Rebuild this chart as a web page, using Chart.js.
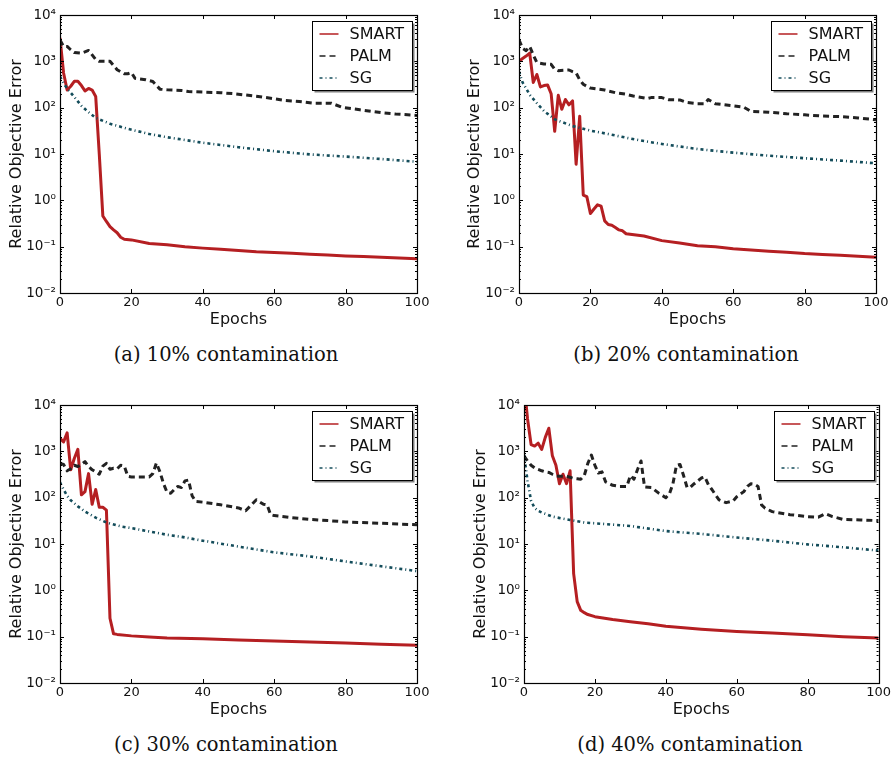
<!DOCTYPE html>
<html><head><meta charset="utf-8">
<script src="https://cdn.jsdelivr.net/npm/chart.js@4.4.1/dist/chart.umd.min.js"></script>
<style>
html,body{margin:0;padding:0;background:#fff;}
#wrap{position:relative;width:893px;height:758px;overflow:hidden;background:#fff;}
.pane{position:absolute;}
.cap{position:absolute;font-family:"DejaVu Serif",serif;font-size:19.5px;line-height:22px;color:#111;white-space:nowrap;transform:translateX(-50%);}
</style></head><body>
<div id="wrap">
  <div class="pane" id="pa"><canvas id="ca"></canvas></div>
  <div class="pane" id="pb"><canvas id="cb"></canvas></div>
  <div class="pane" id="pc"><canvas id="cc"></canvas></div>
  <div class="pane" id="pd"><canvas id="cd"></canvas></div>
  <div class="cap" style="left:226px;top:344px">(a) 10% contamination</div>
  <div class="cap" style="left:686px;top:344px">(b) 20% contamination</div>
  <div class="cap" style="left:226px;top:734px">(c) 30% contamination</div>
  <div class="cap" style="left:690px;top:734px">(d) 40% contamination</div>
</div>
<script>
// ---------- data ----------
const seriesNames = ['SMART', 'PALM', 'SG'];
const xTickValues = [0, 20, 40, 60, 80, 100];
const yTickValues = [0.01, 0.1, 1, 10, 100, 1000, 10000];
const yTickLabels = ['10\u207B\u00B2', '10\u207B\u00B9', '10\u2070', '10\u00B9', '10\u00B2', '10\u00B3', '10\u2074'];
const xTitle = 'Epochs';
const yTitle = 'Relative Objective Error';

// (a) 10% contamination
const aSmartEpochs = [0,1,2,3,4,5,6,7,8,9,10,11,12,13,14,15,16,17,18,20,25,30,35,40,45,50,55,60,65,70,75,80,85,90,95,100];
const aSmartValues = [3200,560,240,290,370,370,300,230,260,240,175,10,0.46,0.35,0.27,0.23,0.2,0.16,0.145,0.14,0.117,0.11,0.1,0.093,0.088,0.083,0.078,0.075,0.072,0.069,0.066,0.063,0.061,0.059,0.057,0.055];
const aPalmEpochs = [0,1,2,3,4,6,8,10,11,14,16,18,19,20,21,24,26,28,30,34,36,45,49,54,59,63,67,71,76,79,84,90,94,100];
const aPalmValues = [2900,2100,2100,1780,1550,1500,1720,1100,1000,1000,660,540,540,575,430,400,367,251,243,235,223,210,199,180,160,143,136,125,125,102,90,78,73,68];
const aSgEpochs = [0,1,2,4,6,8,10,14,19,25,30,40,50,60,70,80,90,100];
const aSgValues = [470,340,260,170,110,80,60,45,35,27,23,17.5,14,11.5,9.8,8.8,7.8,6.8];

// (b) 20% contamination
const bSmartEpochs = [0,1,2,3,4,5,6,7,8,9,10,11,12,13,14,15,16,17,18,19,20,21,22,23,24,25,26,27,28,29,30,35,40,45,50,55,60,65,70,75,80,85,90,95,100];
const bSmartValues = [1000,1150,1300,1500,350,520,280,300,310,200,31,185,92,150,115,140,6,65,1.3,1.2,0.52,0.65,0.8,0.75,0.36,0.3,0.29,0.26,0.23,0.22,0.19,0.17,0.135,0.12,0.105,0.1,0.09,0.085,0.08,0.076,0.071,0.068,0.065,0.062,0.059];
const bPalmEpochs = [0,1,2,3,4,5,7,9,10,11,14,15,16,17,18,19,20,24,27,30,32,36,37,40,42,45,47,50,52,53,55,60,63,65,70,75,80,85,90,95,100];
const bPalmValues = [2900,1900,1700,2100,1380,940,880,860,680,630,650,600,560,400,320,290,265,240,210,195,178,158,165,165,148,147,130,122,122,150,122,110,102,83,80,74,70,66,64,60,55];
const bSgEpochs = [0,1,2,3,5,7,10,15,20,25,30,35,40,45,50,60,70,80,90,100];
const bSgValues = [600,350,260,190,125,85,56,40,32,27,22.5,19,16.5,14.5,12.8,10.7,9.2,8.1,7.2,6.3];

// (c) 30% contamination
const cSmartEpochs = [0,1,2,3,4,5,6,7,8,9,10,11,12,13,14,15,16,20,25,30,40,50,60,70,80,90,100];
const cSmartValues = [1900,1600,2500,400,700,1100,115,135,330,72,150,62,62,54,0.25,0.115,0.112,0.104,0.098,0.094,0.09,0.085,0.081,0.077,0.073,0.069,0.065];
const cPalmEpochs = [0,1,2,3,4,5,6,7,8,9,10,11,12,13,14,15,16,17,18,19,20,25,26,27,28,29,30,31,32,33,34,35,36,37,38,40,45,50,52,55,57,58,59,60,65,70,75,80,90,100];
const cPalmValues = [550,520,380,420,500,470,520,600,470,400,360,320,480,550,410,430,420,500,480,290,280,280,330,560,360,200,130,125,150,175,165,230,240,110,83,80,70,60,52,90,72,70,43,41,37,34,32,30,28,26];
const cSgEpochs = [0,1,2,3,5,7,10,13,17,20,27,30,34,40,50,60,70,80,90,100];
const cSgValues = [215,150,110,88,65,50,37,29,24,22,17.5,15.8,14.3,11.8,8.8,6.6,5.4,4.2,3.3,2.6];

// (d) 40% contamination
const dSmartEpochs = [0,1,2,3,4,5,6,7,8,9,10,11,12,13,14,15,16,17,18,20,25,30,35,40,50,60,70,80,90,100];
const dSmartValues = [30000,5000,1400,1300,1500,1100,2000,3150,800,500,200,320,200,380,2.3,0.57,0.37,0.33,0.3,0.27,0.235,0.21,0.19,0.167,0.145,0.13,0.12,0.11,0.1,0.094];
const dPalmEpochs = [0,1,2,3,4,5,6,7,8,9,10,12,13,14,15,16,17,18,19,20,21,22,23,25,27,29,30,31,32,33,34,36,38,40,41,42,43,44,45,46,47,48,49,50,51,52,53,54,55,57,59,60,62,63,64,65,66,67,68,70,75,80,83,85,87,90,95,100];
const dPalmValues = [800,620,500,440,410,380,360,350,320,295,290,290,275,260,255,250,300,550,830,500,340,360,220,185,175,175,300,250,400,620,170,165,125,100,120,200,500,520,300,165,170,200,230,265,280,190,150,115,90,78,85,105,135,175,200,195,175,70,59,50,43,39,38,45,39,34,33,32];
const dSgEpochs = [0,1,2,3,4,5,8,13,17,20,30,40,50,60,70,80,90,100];
const dSgValues = [850,230,85,60,52,48,39,33,29,28,24.5,19,16.5,13.8,11.8,9.8,8.5,7.2];

// ---------- styles / layout ----------
const FONT = '"DejaVu Sans", sans-serif';
const styles = [
  {color:'#b51f22', width:3, dash:[], legendWidth:1.5},
  {color:'#222222', width:3, dash:[6,4], legendWidth:1.5},
  {color:'#134c5a', width:2.6, dash:[3,3,1,3], legendWidth:1.5}
];
const panels = [
  {id:'ca', pane:'pa', left:0,   top:0,   width:440, yW:60, epochs:[aSmartEpochs,aPalmEpochs,aSgEpochs], values:[aSmartValues,aPalmValues,aSgValues]},
  {id:'cb', pane:'pb', left:458, top:0,   width:435, yW:61, epochs:[bSmartEpochs,bPalmEpochs,bSgEpochs], values:[bSmartValues,bPalmValues,bSgValues]},
  {id:'cc', pane:'pc', left:0,   top:390, width:440, yW:60, epochs:[cSmartEpochs,cPalmEpochs,cSgEpochs], values:[cSmartValues,cPalmValues,cSgValues]},
  {id:'cd', pane:'pd', left:464, top:390, width:429, yW:60, epochs:[dSmartEpochs,dPalmEpochs,dSgEpochs], values:[dSmartValues,dPalmValues,dSgValues]}
];
const chartRights = [417, 876, 417, 881];
const H = 330, PADTOP = 15, XH = 37;

const framePlugin = {
  id:'frameTicks',
  afterDatasetsDraw(chart){
    const {ctx, chartArea:a, scales:{x, y}} = chart;
    ctx.save();
    ctx.strokeStyle = '#000';
    ctx.lineWidth = 1;
    ctx.beginPath();
    xTickValues.forEach(v => {
      const px = Math.round(x.getPixelForValue(v)) + 0.5;
      ctx.moveTo(px, a.bottom); ctx.lineTo(px, a.bottom - 4);
      ctx.moveTo(px, a.top); ctx.lineTo(px, a.top + 4);
    });
    for (let e = -2; e <= 4; e++) {
      const py = Math.round(y.getPixelForValue(Math.pow(10, e))) + 0.5;
      ctx.moveTo(a.left, py); ctx.lineTo(a.left + 4, py);
      ctx.moveTo(a.right, py); ctx.lineTo(a.right - 4, py);
      if (e < 4) {
        for (let m = 2; m <= 9; m++) {
          const pm = Math.round(y.getPixelForValue(m * Math.pow(10, e))) + 0.5;
          ctx.moveTo(a.left, pm); ctx.lineTo(a.left + 2, pm);
          ctx.moveTo(a.right, pm); ctx.lineTo(a.right - 2, pm);
        }
      }
    }
    ctx.stroke();
    ctx.lineWidth = 1.2;
    ctx.strokeRect(Math.round(a.left) + 0.5, Math.round(a.top) + 0.5, Math.round(a.right - a.left), Math.round(a.bottom - a.top));
    ctx.restore();
  },
  afterDraw(chart){
    const {ctx, chartArea:a} = chart;
    const bw = 100, bh = 69;
    const bx = Math.round(a.right - 5 - bw) + 0.5, by = Math.round(a.top + 6) + 0.5;
    ctx.save();
    ctx.fillStyle = '#808080';
    ctx.fillRect(bx + 2, by + 2, bw, bh);
    ctx.fillStyle = '#fff';
    ctx.fillRect(bx, by, bw, bh);
    ctx.strokeStyle = '#000';
    ctx.lineWidth = 1;
    ctx.strokeRect(bx, by, bw, bh);
    ctx.font = '16px ' + FONT;
    ctx.textBaseline = 'middle';
    ctx.fillStyle = '#111';
    chart.data.datasets.forEach((ds, i) => {
      const st = styles[i];
      const ry = by + 12.5 + i * 22;
      ctx.strokeStyle = ds.borderColor;
      ctx.lineWidth = st.legendWidth;
      ctx.setLineDash(ds.borderDash || []);
      ctx.beginPath();
      ctx.moveTo(bx + 7, ry); ctx.lineTo(bx + 26, ry);
      ctx.stroke();
      ctx.setLineDash([]);
      ctx.fillText(ds.label, bx + 37, ry + 1);
    });
    ctx.restore();
  }
};

panels.forEach((p, idx) => {
  const pane = document.getElementById(p.pane);
  pane.style.left = p.left + 'px';
  pane.style.top = p.top + 'px';
  const cv = document.getElementById(p.id);
  cv.width = p.width; cv.height = H;
  cv.style.width = p.width + 'px'; cv.style.height = H + 'px';
  const rightPad = p.left + p.width - chartRights[idx];
  const datasets = seriesNames.map((name, i) => ({
    label: name,
    data: p.epochs[i].map((e, k) => ({x: e, y: p.values[i][k]})),
    borderColor: styles[i].color,
    borderWidth: styles[i].width,
    borderDash: styles[i].dash,
    borderCapStyle: 'butt',
    borderJoinStyle: 'round',
    pointRadius: 0,
    tension: 0,
    fill: false,
    order: 3 - i,
    clip: 0
  }));
  new Chart(cv, {
    type: 'line',
    data: {datasets},
    options: {
      responsive: false,
      animation: false,
      devicePixelRatio: 1,
      layout: {padding: {top: PADTOP, right: rightPad, left: 0, bottom: 0}},
      plugins: {legend: {display: false}, tooltip: {enabled: false}},
      scales: {
        x: {
          type: 'linear', min: 0, max: 100,
          afterBuildTicks: s => { s.ticks = xTickValues.map(v => ({value: v})); },
          ticks: {font: {family: FONT, size: 13}, color: '#111', padding: 2, maxRotation: 0, autoSkip: false},
          grid: {display: false, drawTicks: false}, border: {display: false},
          title: {display: true, text: xTitle, font: {family: FONT, size: 16}, color: '#111', padding: {top: 0, bottom: 1}},
          afterFit: s => { s.height = XH; }
        },
        y: {
          type: 'logarithmic', min: 0.01, max: 10000,
          afterBuildTicks: s => { s.ticks = yTickValues.map(v => ({value: v})); },
          ticks: {font: {family: FONT, size: 13.5}, color: '#111', padding: 4, autoSkip: false,
                  callback: (v, i) => yTickLabels[i]},
          grid: {display: false, drawTicks: false}, border: {display: false},
          title: {display: true, text: yTitle, font: {family: FONT, size: 16}, color: '#111', padding: {top: 7, bottom: 0}},
          afterFit: s => { s.width = p.yW; }
        }
      }
    },
    plugins: [framePlugin]
  });
});
</script>
</body></html>
